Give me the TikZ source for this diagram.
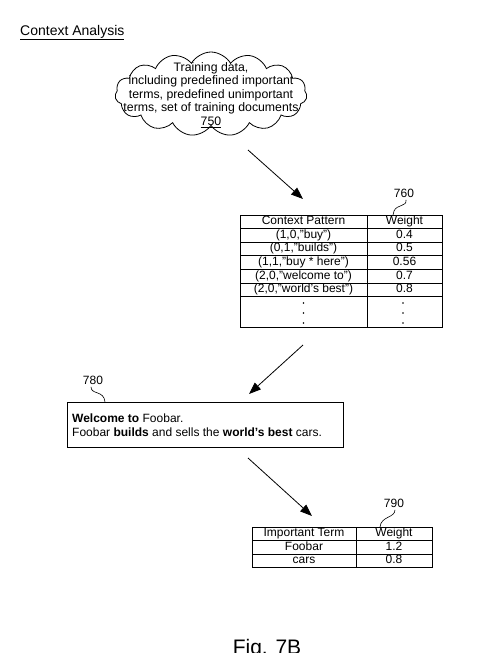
\documentclass[tikz,border=0pt]{standalone}
\usepackage{fontspec}
\setmainfont{Liberation Sans}
\usetikzlibrary{shapes.symbols,arrows.meta}
\begin{document}
\begin{tikzpicture}[x=1pt,y=-1pt,
  txt/.style={font=\fontsize{12}{13.5}\selectfont, inner sep=0pt},
  celltxt/.style={txt, text height=8.7pt, text depth=2.6pt},
  arr/.style={-{Triangle[length=12pt,width=9pt]}, line width=0.8pt},
  lead/.style={line width=0.6pt},
  tbl/.style={draw, line width=0.8pt, inner sep=0pt},
  grid/.style={line width=0.8pt},
  dot/.style={fill=black}]
\useasboundingbox (0,0) rectangle (488,653);
\clip (0,0) rectangle (488,653);

% title
\node[font=\fontsize{14}{16}\selectfont, anchor=base west, inner sep=0pt] (title) at (20,35) {\underline{Context Analysis}};

% cloud
\node[cloud, draw, line width=0.8pt, cloud puffs=15, cloud puff arc=120, cloud ignores aspect,
      minimum width=192pt, minimum height=84pt, inner sep=0pt] (cloud) at (211,94) {};
\node[font=\fontsize{12.3}{13.6}\selectfont, inner sep=0pt, align=center] (cloudtxt) at (211,95) {Training data,\\including predefined important\\terms, predefined unimportant\\terms, set of training documents\\\underline{750}};

% arrow 1
\coordinate (a1s) at (248,150);
\coordinate (a1e) at (303,199);
\draw[arr] (a1s) -- (a1e);

% table 760
\node[celltxt] (l760) at (404,194) {760};
\node[tbl, minimum width=202pt, minimum height=112pt, anchor=north west] (t1) at (240,215) {};
\draw[grid] (367,215) -- (367,327);
\foreach \yy in {228.5,242,255.5,269,283,296.5} {\draw[grid] (240,\yy) -- (442,\yy);}
\draw[lead] (l760.south) ++(2,0) .. controls (407,207) and (397,204) .. (394,211) -- (393,215);
\node[celltxt] (c11) at (303.5,221.75) {Context Pattern};
\node[celltxt] (c12) at (404.5,221.75) {Weight};
\node[celltxt] (c21) at (303.5,235.25) {(1,0,"buy")};
\node[celltxt] (c22) at (404.5,235.25) {0.4};
\node[celltxt] (c31) at (303.5,248.75) {(0,1,"builds")};
\node[celltxt] (c32) at (404.5,248.75) {0.5};
\node[celltxt] (c41) at (303.5,262.25) {(1,1,"buy * here")};
\node[celltxt] (c42) at (404.5,262.25) {0.56};
\node[celltxt] (c51) at (303.5,276) {(2,0,"welcome to")};
\node[celltxt] (c52) at (404.5,276) {0.7};
\node[celltxt] (c61) at (303.5,289.75) {(2,0,"world's best")};
\node[celltxt] (c62) at (404.5,289.75) {0.8};
\foreach \yy in {303,313,323} {
  \fill[dot] (303.5,\yy) circle (0.8);
  \fill[dot] (403,\yy) circle (0.8);
}

% arrow 2
\coordinate (a2s) at (303,345);
\coordinate (a2e) at (249,394);
\draw[arr] (a2s) -- (a2e);

% box 780
\node[celltxt] (l780) at (93,381) {780};
\node[draw, line width=0.8pt, minimum width=276pt, minimum height=45pt, anchor=north west, inner sep=0pt] (box) at (67,402) {};
\draw[lead] (l780.south) ++(-2,0) .. controls (91,395) and (104,390) .. (105,402);
\node[txt, anchor=west, align=left] (boxtxt) at (72,425) {\textbf{Welcome to} Foobar.\\Foobar \textbf{builds} and sells the \textbf{world's best} cars.};

% arrow 3
\coordinate (a3s) at (248,458);
\coordinate (a3e) at (312,516);
\draw[arr] (a3s) -- (a3e);

% table 790
\node[celltxt] (l790) at (394,504) {790};
\node[tbl, minimum width=180pt, minimum height=40pt, anchor=north west] (t2) at (252,527) {};
\draw[grid] (356,527) -- (356,567);
\foreach \yy in {540.5,554} {\draw[grid] (252,\yy) -- (432,\yy);}
\draw[lead] (l790.south) ++(1,0) .. controls (395,518) and (381,516) .. (380,527);
\node[celltxt] (d11) at (304,533.75) {Important Term};
\node[celltxt] (d12) at (394,533.75) {Weight};
\node[celltxt] (d21) at (304,547.25) {Foobar};
\node[celltxt] (d22) at (394,547.25) {1.2};
\node[celltxt] (d31) at (304,560.5) {cars};
\node[celltxt] (d32) at (394,560.5) {0.8};

% figure caption (cut off at bottom, as in the reference)
\node[font=\fontsize{21}{24}\selectfont, anchor=base, inner sep=0pt] (fig) at (267,654) {Fig. 7B};
\end{tikzpicture}
\end{document}
